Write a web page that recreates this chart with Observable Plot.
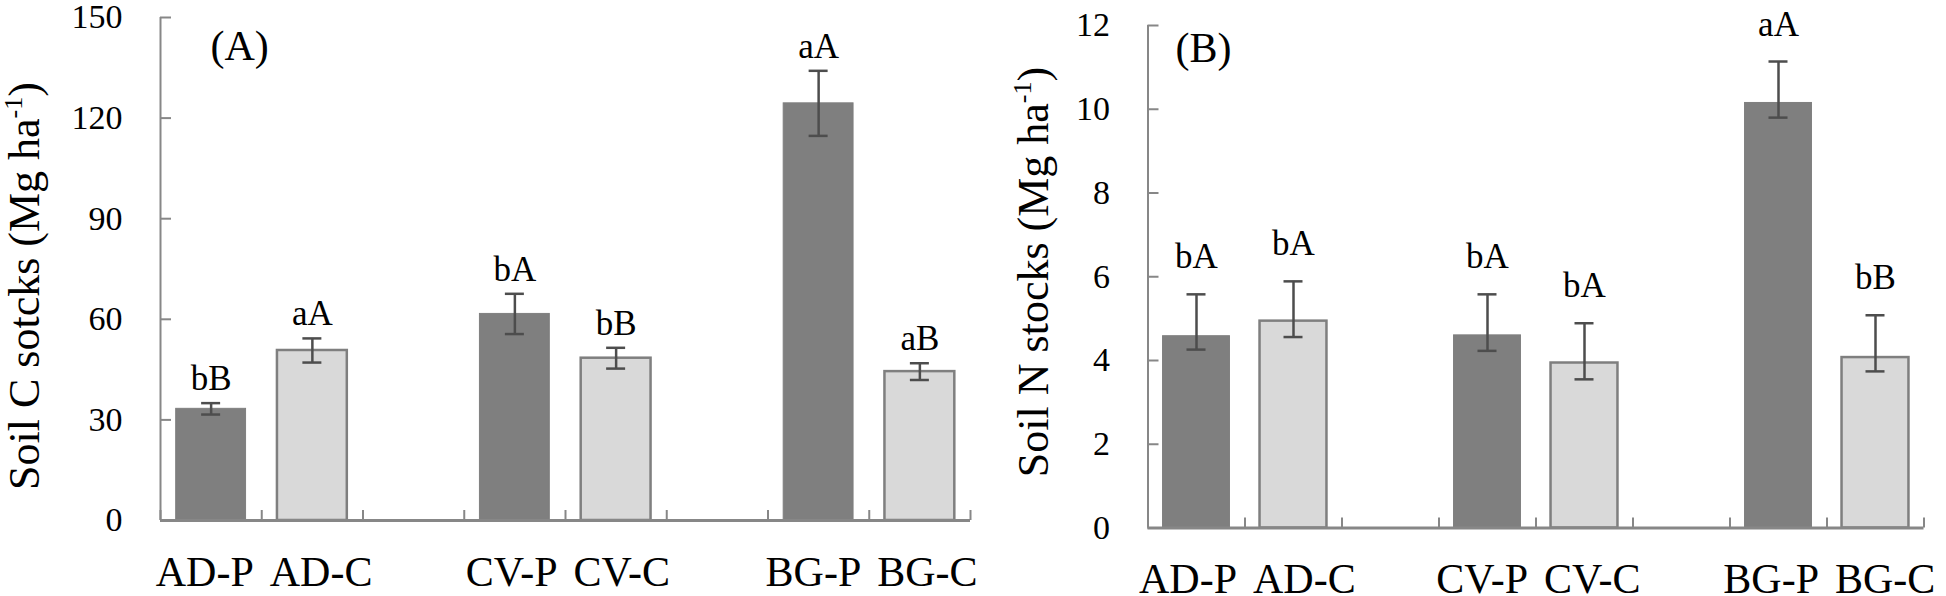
<!DOCTYPE html>
<html><head><meta charset="utf-8">
<script src="https://cdn.jsdelivr.net/npm/d3@7"></script>
<script src="https://cdn.jsdelivr.net/npm/@observablehq/plot@0.6"></script>
<style>
html,body{margin:0;padding:0;background:#fff;}
#wrap{display:flex;width:1946px;height:596px;overflow:hidden;background:#fff;}
svg{display:block;}
</style></head><body><div id="wrap"></div>
<script>
// ---- data ----
const categories = ["AD-P", "AD-C", "CV-P", "CV-C", "BG-P", "BG-C"];
const soilC = [33.3, 50.7, 61.6, 48.4, 124.4, 44.4];
const soilCErr = [1.7, 3.6, 6.0, 3.1, 9.7, 2.5];
const soilCLetters = ["bB", "aA", "bA", "bB", "aA", "aB"];
const soilN = [4.58, 4.94, 4.60, 3.94, 10.15, 4.07];
const soilNErrUp = [1.00, 0.95, 0.98, 0.95, 0.99, 1.01];
const soilNErrDown = [0.32, 0.38, 0.37, 0.39, 0.35, 0.33];
const soilNLetters = ["bA", "bA", "bA", "bA", "aA", "bB"];
const ticksC = [0, 30, 60, 90, 120, 150];
const ticksN = [0, 2, 4, 6, 8, 10, 12];

const SERIF = "'Liberation Serif', 'Times New Roman', Times, serif";
const DARK = "#7f7f7f", LIGHT = "#d9d9d9", EDGE = "#7f7f7f", AXIS = "#878787", ERR = "#4d4d4d";

function panel(o) {
  const rows = categories.map((c, i) => ({
    cat: c, slot: i + Math.floor(i / 2), ctrl: i % 2 === 1,
    v: o.values[i], hi: o.values[i] + o.up[i], lo: o.values[i] - o.down[i], letter: o.letters[i]
  }));
  const step = (o.width - o.marginLeft - o.marginRight) / 8;
  const cap = 9.5 / step;
  const svg = Plot.plot({
    width: o.width, height: 596,
    marginLeft: o.marginLeft, marginRight: o.marginRight, marginTop: o.marginTop, marginBottom: o.marginBottom,
    style: {fontFamily: SERIF, background: "white", color: "black"},
    x: {type: "linear", domain: [0, 8], axis: null},
    y: {domain: [0, o.yMax], axis: null},
    marks: [
      Plot.rectY(rows.filter(d => !d.ctrl), {x1: d => d.slot + 0.155, x2: d => d.slot + 0.845, y1: 0, y2: "v", fill: DARK, stroke: DARK, strokeWidth: 1}),
      Plot.rectY(rows.filter(d => d.ctrl), {x1: d => d.slot + 0.155, x2: d => d.slot + 0.845, y1: 0, y2: "v", fill: LIGHT, stroke: EDGE, strokeWidth: 2.5}),
      Plot.ruleX(rows, {x: d => d.slot + 0.5, y1: "lo", y2: "hi", stroke: ERR, strokeWidth: 2.5}),
      Plot.ruleY(rows, {y: "hi", x1: d => d.slot + 0.5 - cap, x2: d => d.slot + 0.5 + cap, stroke: ERR, strokeWidth: 2.5}),
      Plot.ruleY(rows, {y: "lo", x1: d => d.slot + 0.5 - cap, x2: d => d.slot + 0.5 + cap, stroke: ERR, strokeWidth: 2.5}),
      Plot.text(rows, {x: d => d.slot + 0.5, y: "hi", text: "letter", dy: -o.letterGap, lineAnchor: "bottom", fontSize: 35, fill: "black"}),
      Plot.ruleX([0], {stroke: AXIS, strokeWidth: 2}),
      Plot.ruleY([0], {stroke: AXIS, strokeWidth: 3}),
      Plot.axisY(o.ticks, {anchor: "left", tickSize: -11, tickPadding: 49, stroke: AXIS, strokeWidth: 2, fill: "black", fontSize: 34}),
      Plot.axisX(d3.range(9), {anchor: "bottom", tickSize: -10, stroke: AXIS, strokeWidth: 2, tickFormat: () => ""}),
      Plot.text(rows.filter(d => !d.ctrl), {x: d => d.slot + 1, y: 0, text: "cat", textAnchor: "end", dx: -8, dy: o.labelDy, lineAnchor: "bottom", fontSize: 42, fill: "black"}),
      Plot.text(rows.filter(d => d.ctrl), {x: d => d.slot, y: 0, text: "cat", textAnchor: "start", dx: 8, dy: o.labelDy, lineAnchor: "bottom", fontSize: 42, fill: "black"}),
      Plot.text([o.tag], {text: d => d, frameAnchor: "top-left", textAnchor: "start", lineAnchor: "bottom", dx: o.tagDx, dy: o.tagDy, fontSize: 42, fill: "black"})
    ]
  });
  const t = d3.select(svg).append("text")
    .attr("transform", `translate(${o.ylabX},${o.ylabY}) rotate(-90)`)
    .attr("text-anchor", "middle")
    .attr("font-family", SERIF)
    .attr("font-size", 44)
    .attr("fill", "black");
  t.append("tspan").text(o.ylab);
  t.append("tspan").attr("font-size", 26).attr("dy", -17).text("-1");
  t.append("tspan").attr("dy", 17).text(")");
  return svg;
}

const wrap = document.getElementById("wrap");
wrap.appendChild(panel({
  width: 990, marginLeft: 160, marginRight: 20, marginTop: 17, marginBottom: 76,
  yMax: 150, ticks: ticksC, values: soilC, up: soilCErr, down: soilCErr, letters: soilCLetters,
  letterGap: 13, labelDy: 65, tag: "(A)", tagDx: 50, tagDy: 42,
  ylab: "Soil C sotcks (Mg ha", ylabX: 39, ylabY: 286
}));
wrap.appendChild(panel({
  width: 956, marginLeft: 157.5, marginRight: 22.5, marginTop: 25, marginBottom: 68.5,
  yMax: 12, ticks: ticksN, values: soilN, up: soilNErrUp, down: soilNErrDown, letters: soilNLetters,
  letterGap: 26, labelDy: 65, tag: "(B)", tagDx: 27.5, tagDy: 36,
  ylab: "Soil N stocks (Mg ha", ylabX: 58, ylabY: 272
}));
</script>
</body></html>
